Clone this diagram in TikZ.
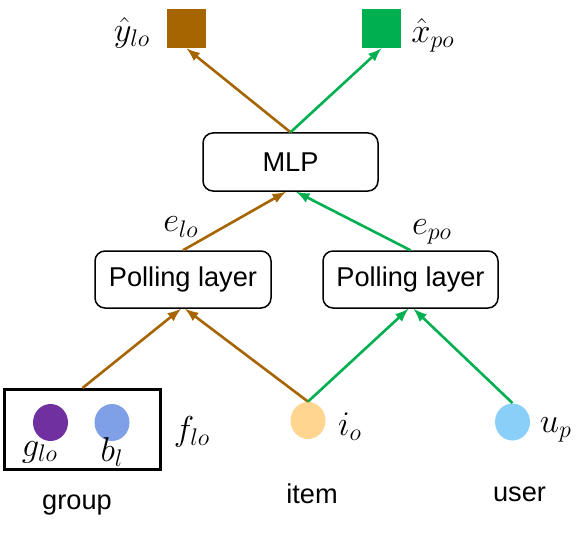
\documentclass[tikz,border=0pt]{standalone}
\usepackage{fontspec}
\setmainfont{Liberation Sans}
\usetikzlibrary{shapes.geometric}
\definecolor{lobrown}{RGB}{166,101,0}
\definecolor{pogreen}{RGB}{0,176,80}
\definecolor{gpurple}{RGB}{112,48,160}
\definecolor{bblue}{RGB}{127,160,230}
\definecolor{iorange}{RGB}{255,213,143}
\definecolor{ublue}{RGB}{137,207,248}
\begin{document}
\begin{tikzpicture}[x=0.5pt,y=-0.5pt,
    layerbox/.style={draw,rounded corners=5pt,line width=0.75pt,inner sep=0pt,font=\fontsize{13.6}{16}\selectfont},
    outsq/.style={minimum size=19.5pt,inner sep=0pt},
    emb/.style={ellipse,minimum width=17.5pt,minimum height=18.5pt,inner sep=0pt},
    lab/.style={inner sep=1pt,font=\fontsize{17.28}{20}\selectfont},
    word/.style={font=\fontsize{13.6}{16}\selectfont},
    conn/.style={-latex,line width=1.3pt}]
    \useasboundingbox (0,0) rectangle (581,534);

    % outputs
    \node[outsq,fill=lobrown] (yhat) at (186.5,28.5) {};
    \node[outsq,fill=pogreen] (xhat) at (381.5,28.5) {};
    \node[lab] (yhatlab) at (132,33) {$\hat{y}_{lo}$};
    \node[lab] (xhatlab) at (433,35) {$\hat{x}_{po}$};

    % layers
    \node[layerbox,minimum width=87.5pt,minimum height=29pt]  (mlp)  at (290.5,162)   {MLP};
    \node[layerbox,minimum width=88pt,minimum height=28.5pt]  (polL) at (183,279.5)   {Polling layer};
    \node[layerbox,minimum width=87.5pt,minimum height=28.5pt] (polR) at (410.5,279.5) {Polling layer};
    \node[lab] (elo) at (181,227) {$e_{lo}$};
    \node[lab] (epo) at (432,232) {$e_{po}$};

    % inputs
    \node[draw,line width=1.5pt,minimum width=78pt,minimum height=40pt] (grp) at (82.5,429.5) {};
    \node[emb,fill=gpurple] (gnode) at (50.5,422.5) {};
    \node[emb,fill=bblue]   (bnode) at (112,422.5)  {};
    \node[emb,fill=iorange] (inode) at (308,420.5)  {};
    \node[emb,fill=ublue]   (unode) at (512.5,422)  {};
    \node[lab] (glab) at (40,452)  {$g_{lo}$};
    \node[lab] (blab) at (112,452) {$b_{l}$};
    \node[lab] (flab) at (192,432) {$f_{lo}$};
    \node[lab] (ilab) at (350,427) {$i_{o}$};
    \node[lab] (ulab) at (556,430) {$u_{p}$};
    \node[word] (grptxt)  at (77,505)  {group};
    \node[word] (itemtxt) at (312,494) {item};
    \node[word] (usertxt) at (519.5,494.5) {user};

    % connectors
    \draw[conn,lobrown] (mlp.north) -- (yhat.south);
    \draw[conn,pogreen] (mlp.north) -- (xhat.south);
    \draw[conn,lobrown] (polL.north) -- ([xshift=-2.25pt]mlp.south);
    \draw[conn,pogreen] (polR.north) -- ([xshift=2.75pt]mlp.south);
    \draw[conn,lobrown] (grp.north) -- ([xshift=-1pt]polL.south);
    \draw[conn,lobrown] (inode.north) -- ([xshift=1pt]polL.south);
    \draw[conn,pogreen] (inode.north) -- ([xshift=-1pt]polR.south);
    \draw[conn,pogreen] (unode.north) -- ([xshift=1.5pt]polR.south);
\end{tikzpicture}
\end{document}
